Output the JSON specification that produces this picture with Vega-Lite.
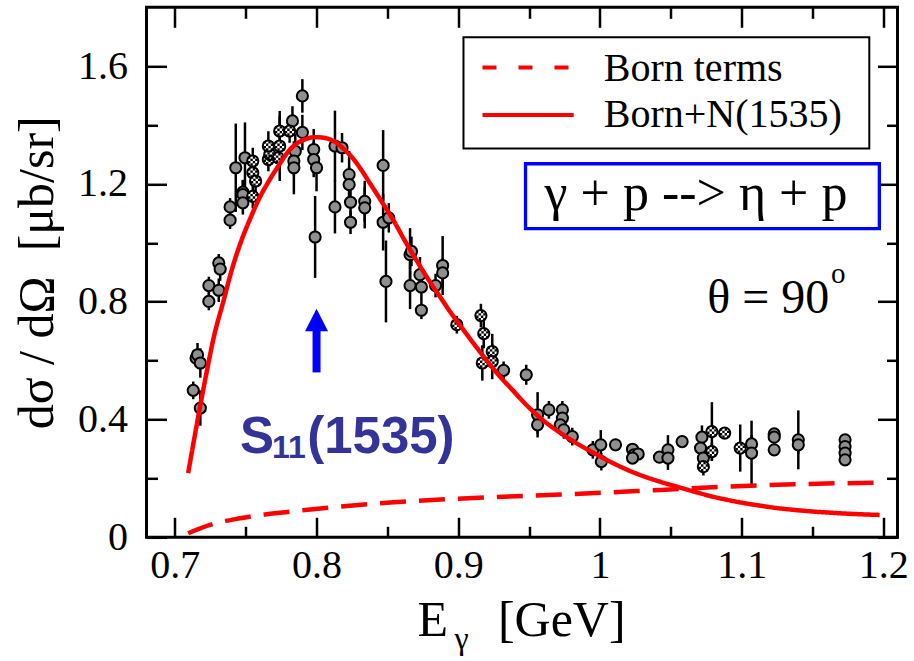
{
  "$schema": "https://vega.github.io/schema/vega-lite/v6.json",
  "width": 751,
  "height": 530,
  "autosize": {"type": "none"},
  "padding": {"left": 146.5, "top": 7.3, "right": 16.5, "bottom": 123.7},
  "background": "white",
  "config": {
    "view": {"stroke": "black", "strokeWidth": 3},
    "font": "Liberation Serif, Times New Roman, Times, serif",
    "axis": {
      "domain": false,
      "grid": false,
      "tickColor": "black",
      "tickWidth": 2.5,
      "labelFont": "Liberation Serif, Times New Roman, Times, serif",
      "labelFontSize": 40,
      "labelColor": "black",
      "titleFont": "Liberation Serif, Times New Roman, Times, serif",
      "titleFontSize": 50,
      "titleFontWeight": "normal",
      "titleColor": "black",
      "labelOverlap": false,
      "labelFlush": false
    }
  },
  "datasets": {
    "grey": [
      {"E": 0.713, "sigma": 0.499, "err": 0.03}, {"E": 0.718, "sigma": 0.439, "err": 0.06},
      {"E": 0.715, "sigma": 0.609, "err": 0.03}, {"E": 0.716, "sigma": 0.62, "err": 0.04},
      {"E": 0.718, "sigma": 0.592, "err": 0.05}, {"E": 0.724, "sigma": 0.855, "err": 0.03},
      {"E": 0.724, "sigma": 0.801, "err": 0.03}, {"E": 0.731, "sigma": 0.839, "err": 0.04},
      {"E": 0.731, "sigma": 0.932, "err": 0.03}, {"E": 0.732, "sigma": 0.911, "err": 0.04},
      {"E": 0.739, "sigma": 1.122, "err": 0.03}, {"E": 0.739, "sigma": 1.077, "err": 0.03},
      {"E": 0.743, "sigma": 1.255, "err": 0.15}, {"E": 0.748, "sigma": 1.172, "err": 0.04},
      {"E": 0.748, "sigma": 1.164, "err": 0.05}, {"E": 0.748, "sigma": 1.136, "err": 0.04},
      {"E": 0.7495, "sigma": 1.289, "err": 0.12}, {"E": 0.783, "sigma": 1.414, "err": 0.05},
      {"E": 0.785, "sigma": 1.311, "err": 0.06}, {"E": 0.784, "sigma": 1.278, "err": 0.05},
      {"E": 0.784, "sigma": 1.255, "err": 0.09}, {"E": 0.79, "sigma": 1.499, "err": 0.057},
      {"E": 0.79, "sigma": 1.375, "err": 0.06}, {"E": 0.798, "sigma": 1.317, "err": 0.07},
      {"E": 0.798, "sigma": 1.283, "err": 0.06}, {"E": 0.8, "sigma": 1.255, "err": 0.08},
      {"E": 0.799, "sigma": 1.02, "err": 0.139}, {"E": 0.813, "sigma": 1.329, "err": 0.12},
      {"E": 0.818, "sigma": 1.323, "err": 0.05}, {"E": 0.813, "sigma": 1.122, "err": 0.09},
      {"E": 0.823, "sigma": 1.232, "err": 0.08}, {"E": 0.823, "sigma": 1.198, "err": 0.06},
      {"E": 0.824, "sigma": 1.138, "err": 0.05}, {"E": 0.824, "sigma": 1.07, "err": 0.04},
      {"E": 0.834, "sigma": 1.141, "err": 0.07}, {"E": 0.834, "sigma": 1.119, "err": 0.07},
      {"E": 0.847, "sigma": 1.263, "err": 0.12}, {"E": 0.847, "sigma": 1.07, "err": 0.096},
      {"E": 0.851, "sigma": 1.085, "err": 0.05}, {"E": 0.849, "sigma": 0.869, "err": 0.139},
      {"E": 0.866, "sigma": 0.96, "err": 0.09}, {"E": 0.867, "sigma": 0.971, "err": 0.05},
      {"E": 0.866, "sigma": 0.855, "err": 0.08}, {"E": 0.873, "sigma": 0.892, "err": 0.06},
      {"E": 0.874, "sigma": 0.85, "err": 0.05}, {"E": 0.874, "sigma": 0.771, "err": 0.03},
      {"E": 0.884, "sigma": 0.855, "err": 0.04}, {"E": 0.889, "sigma": 0.923, "err": 0.1},
      {"E": 0.889, "sigma": 0.898, "err": 0.05}, {"E": 0.932, "sigma": 0.567, "err": 0.03},
      {"E": 0.948, "sigma": 0.552, "err": 0.034}, {"E": 0.956, "sigma": 0.416, "err": 0.077},
      {"E": 0.956, "sigma": 0.382, "err": 0.03}, {"E": 0.964, "sigma": 0.433, "err": 0.03},
      {"E": 0.9735, "sigma": 0.433, "err": 0.03}, {"E": 0.9735, "sigma": 0.405, "err": 0.03},
      {"E": 0.972, "sigma": 0.382, "err": 0.03}, {"E": 0.9745, "sigma": 0.365, "err": 0.03},
      {"E": 0.9805, "sigma": 0.342, "err": 0.03}, {"E": 0.995, "sigma": 0.297, "err": 0.03},
      {"E": 1.0006, "sigma": 0.314, "err": 0.05}, {"E": 1.001, "sigma": 0.257, "err": 0.03},
      {"E": 1.011, "sigma": 0.314, "err": 0.02}, {"E": 1.023, "sigma": 0.299, "err": 0.02},
      {"E": 1.024, "sigma": 0.28, "err": 0.02}, {"E": 1.027, "sigma": 0.283, "err": 0.02},
      {"E": 1.023, "sigma": 0.269, "err": 0.02}, {"E": 1.042, "sigma": 0.272, "err": 0.02},
      {"E": 1.048, "sigma": 0.297, "err": 0.05}, {"E": 1.048, "sigma": 0.269, "err": 0.04},
      {"E": 1.058, "sigma": 0.325, "err": 0.02}, {"E": 1.072, "sigma": 0.34, "err": 0.04},
      {"E": 1.071, "sigma": 0.303, "err": 0.03}, {"E": 1.073, "sigma": 0.269, "err": 0.03},
      {"E": 1.107, "sigma": 0.317, "err": 0.03}, {"E": 1.107, "sigma": 0.286, "err": 0.11},
      {"E": 1.123, "sigma": 0.351, "err": 0.02}, {"E": 1.123, "sigma": 0.34, "err": 0.02},
      {"E": 1.123, "sigma": 0.297, "err": 0.02}, {"E": 1.14, "sigma": 0.331, "err": 0.1},
      {"E": 1.14, "sigma": 0.314, "err": 0.03}, {"E": 1.173, "sigma": 0.331, "err": 0.02},
      {"E": 1.173, "sigma": 0.308, "err": 0.02}, {"E": 1.173, "sigma": 0.286, "err": 0.02},
      {"E": 1.173, "sigma": 0.263, "err": 0.02}
    ],
    "checker": [
      {"E": 0.755, "sigma": 1.278, "err": 0.045}, {"E": 0.755, "sigma": 1.238, "err": 0.04},
      {"E": 0.757, "sigma": 1.21, "err": 0.04}, {"E": 0.755, "sigma": 1.158, "err": 0.04},
      {"E": 0.766, "sigma": 1.283, "err": 0.04}, {"E": 0.767, "sigma": 1.3, "err": 0.04},
      {"E": 0.766, "sigma": 1.329, "err": 0.05}, {"E": 0.774, "sigma": 1.329, "err": 0.119},
      {"E": 0.774, "sigma": 1.38, "err": 0.05}, {"E": 0.773, "sigma": 1.289, "err": 0.04},
      {"E": 0.781, "sigma": 1.38, "err": 0.04}, {"E": 0.899, "sigma": 0.722, "err": 0.03},
      {"E": 0.916, "sigma": 0.753, "err": 0.04}, {"E": 0.918, "sigma": 0.692, "err": 0.05},
      {"E": 0.924, "sigma": 0.631, "err": 0.06}, {"E": 0.924, "sigma": 0.597, "err": 0.06},
      {"E": 0.917, "sigma": 0.592, "err": 0.06}, {"E": 1.073, "sigma": 0.24, "err": 0.03},
      {"E": 1.079, "sigma": 0.359, "err": 0.1}, {"E": 1.079, "sigma": 0.291, "err": 0.03},
      {"E": 1.088, "sigma": 0.354, "err": 0.02}, {"E": 1.099, "sigma": 0.303, "err": 0.08}
    ],
    "curves": [
      {"model": "Born terms", "E": 0.7094, "sigma": 0.0136},
      {"model": "Born terms", "E": 0.7248, "sigma": 0.042},
      {"model": "Born terms", "E": 0.746, "sigma": 0.0646},
      {"model": "Born terms", "E": 0.7813, "sigma": 0.087},
      {"model": "Born terms", "E": 0.8167, "sigma": 0.104},
      {"model": "Born terms", "E": 0.852, "sigma": 0.118},
      {"model": "Born terms", "E": 0.899, "sigma": 0.131},
      {"model": "Born terms", "E": 0.9723, "sigma": 0.145},
      {"model": "Born terms", "E": 1.043, "sigma": 0.161},
      {"model": "Born terms", "E": 1.09, "sigma": 0.172},
      {"model": "Born terms", "E": 1.1373, "sigma": 0.18},
      {"model": "Born terms", "E": 1.1974, "sigma": 0.1857},
      {"model": "Born+N(1535)", "E": 0.7094, "sigma": 0.218},
      {"model": "Born+N(1535)", "E": 0.715, "sigma": 0.37},
      {"model": "Born+N(1535)", "E": 0.7212, "sigma": 0.53},
      {"model": "Born+N(1535)", "E": 0.728, "sigma": 0.69},
      {"model": "Born+N(1535)", "E": 0.7342, "sigma": 0.8},
      {"model": "Born+N(1535)", "E": 0.74, "sigma": 0.905},
      {"model": "Born+N(1535)", "E": 0.746, "sigma": 0.995},
      {"model": "Born+N(1535)", "E": 0.753, "sigma": 1.08},
      {"model": "Born+N(1535)", "E": 0.76, "sigma": 1.155},
      {"model": "Born+N(1535)", "E": 0.767, "sigma": 1.215},
      {"model": "Born+N(1535)", "E": 0.774, "sigma": 1.268},
      {"model": "Born+N(1535)", "E": 0.78, "sigma": 1.31},
      {"model": "Born+N(1535)", "E": 0.786, "sigma": 1.337},
      {"model": "Born+N(1535)", "E": 0.792, "sigma": 1.352},
      {"model": "Born+N(1535)", "E": 0.799, "sigma": 1.359},
      {"model": "Born+N(1535)", "E": 0.806, "sigma": 1.356},
      {"model": "Born+N(1535)", "E": 0.812, "sigma": 1.346},
      {"model": "Born+N(1535)", "E": 0.819, "sigma": 1.32},
      {"model": "Born+N(1535)", "E": 0.826, "sigma": 1.285},
      {"model": "Born+N(1535)", "E": 0.832, "sigma": 1.245},
      {"model": "Born+N(1535)", "E": 0.838, "sigma": 1.2},
      {"model": "Born+N(1535)", "E": 0.846, "sigma": 1.14},
      {"model": "Born+N(1535)", "E": 0.854, "sigma": 1.079},
      {"model": "Born+N(1535)", "E": 0.862, "sigma": 1.01},
      {"model": "Born+N(1535)", "E": 0.871, "sigma": 0.937},
      {"model": "Born+N(1535)", "E": 0.879, "sigma": 0.875},
      {"model": "Born+N(1535)", "E": 0.8874, "sigma": 0.815},
      {"model": "Born+N(1535)", "E": 0.894, "sigma": 0.768},
      {"model": "Born+N(1535)", "E": 0.9016, "sigma": 0.718},
      {"model": "Born+N(1535)", "E": 0.909, "sigma": 0.67},
      {"model": "Born+N(1535)", "E": 0.916, "sigma": 0.626},
      {"model": "Born+N(1535)", "E": 0.923, "sigma": 0.583},
      {"model": "Born+N(1535)", "E": 0.93, "sigma": 0.543},
      {"model": "Born+N(1535)", "E": 0.937, "sigma": 0.507},
      {"model": "Born+N(1535)", "E": 0.948, "sigma": 0.45},
      {"model": "Born+N(1535)", "E": 0.9605, "sigma": 0.395},
      {"model": "Born+N(1535)", "E": 0.972, "sigma": 0.355},
      {"model": "Born+N(1535)", "E": 0.984, "sigma": 0.318},
      {"model": "Born+N(1535)", "E": 0.9958, "sigma": 0.286},
      {"model": "Born+N(1535)", "E": 1.0076, "sigma": 0.256},
      {"model": "Born+N(1535)", "E": 1.0194, "sigma": 0.229},
      {"model": "Born+N(1535)", "E": 1.031, "sigma": 0.207},
      {"model": "Born+N(1535)", "E": 1.043, "sigma": 0.188},
      {"model": "Born+N(1535)", "E": 1.055, "sigma": 0.171},
      {"model": "Born+N(1535)", "E": 1.0666, "sigma": 0.155},
      {"model": "Born+N(1535)", "E": 1.078, "sigma": 0.14},
      {"model": "Born+N(1535)", "E": 1.09, "sigma": 0.127},
      {"model": "Born+N(1535)", "E": 1.102, "sigma": 0.116},
      {"model": "Born+N(1535)", "E": 1.1137, "sigma": 0.107},
      {"model": "Born+N(1535)", "E": 1.1255, "sigma": 0.099},
      {"model": "Born+N(1535)", "E": 1.1373, "sigma": 0.093},
      {"model": "Born+N(1535)", "E": 1.149, "sigma": 0.088},
      {"model": "Born+N(1535)", "E": 1.1609, "sigma": 0.084},
      {"model": "Born+N(1535)", "E": 1.18, "sigma": 0.079},
      {"model": "Born+N(1535)", "E": 1.1974, "sigma": 0.076}
    ]
  },
  "resolve": {"axis": {"x": "independent", "y": "independent"}},
  "layer": [
    {
      "data": {"values": [{}]},
      "mark": {"type": "rect", "fill": "white", "stroke": "black", "strokeWidth": 2},
      "encoding": {
        "x": {"datum": 0.9037, "type": "quantitative", "scale": {"domain": [0.68, 1.21], "nice": false, "zero": false}, "axis": null},
        "x2": {"datum": 1.1901},
        "y": {"datum": 1.6983, "type": "quantitative", "scale": {"domain": [0, 1.8], "nice": false, "zero": false}, "axis": null},
        "y2": {"datum": 1.3207}
      }
    },
    {
      "data": {"values": [{}]},
      "mark": {"type": "rule", "color": "#ff0000", "strokeWidth": 4, "strokeDash": [14, 22]},
      "encoding": {
        "x": {"datum": 0.9171, "type": "quantitative", "scale": {"domain": [0.68, 1.21], "nice": false, "zero": false}, "axis": null},
        "x2": {"datum": 0.9815},
        "y": {"datum": 1.5952, "type": "quantitative", "scale": {"domain": [0, 1.8], "nice": false, "zero": false}, "axis": null}
      }
    },
    {
      "data": {"values": [{}]},
      "mark": {"type": "rule", "color": "#ff0000", "strokeWidth": 4},
      "encoding": {
        "x": {"datum": 0.9171, "type": "quantitative", "scale": {"domain": [0.68, 1.21], "nice": false, "zero": false}, "axis": null},
        "x2": {"datum": 0.9815},
        "y": {"datum": 1.434, "type": "quantitative", "scale": {"domain": [0, 1.8], "nice": false, "zero": false}, "axis": null}
      }
    },
    {
      "data": {"values": [{}]},
      "mark": {"type": "text", "text": "Born terms", "font": "Liberation Serif, Times New Roman, Times, serif", "fontSize": 40, "align": "left", "baseline": "alphabetic", "color": "black"},
      "encoding": {
        "x": {"datum": 1.0027, "type": "quantitative", "scale": {"domain": [0.68, 1.21], "nice": false, "zero": false}, "axis": null},
        "y": {"datum": 1.5497, "type": "quantitative", "scale": {"domain": [0, 1.8], "nice": false, "zero": false}, "axis": null}
      }
    },
    {
      "data": {"values": [{}]},
      "mark": {"type": "text", "text": "Born+N(1535)", "font": "Liberation Serif, Times New Roman, Times, serif", "fontSize": 40, "align": "left", "baseline": "alphabetic", "color": "black"},
      "encoding": {
        "x": {"datum": 1.0027, "type": "quantitative", "scale": {"domain": [0.68, 1.21], "nice": false, "zero": false}, "axis": null},
        "y": {"datum": 1.3932, "type": "quantitative", "scale": {"domain": [0, 1.8], "nice": false, "zero": false}, "axis": null}
      }
    },
    {
      "data": {"values": [{}]},
      "mark": {"type": "rect", "fill": null, "fillOpacity": 0, "stroke": "#0000ff", "strokeWidth": 3.3},
      "encoding": {
        "x": {"datum": 0.9475, "type": "quantitative", "scale": {"domain": [0.68, 1.21], "nice": false, "zero": false}, "axis": null},
        "x2": {"datum": 1.1972},
        "y": {"datum": 1.2687, "type": "quantitative", "scale": {"domain": [0, 1.8], "nice": false, "zero": false}, "axis": null},
        "y2": {"datum": 1.0486}
      }
    },
    {
      "data": {"values": [{}]},
      "mark": {"type": "text", "text": "γ + p --> η + p", "font": "Liberation Serif, Times New Roman, Times, serif", "fontSize": 52, "align": "center", "baseline": "alphabetic", "color": "black"},
      "encoding": {
        "x": {"datum": 1.0678, "type": "quantitative", "scale": {"domain": [0.68, 1.21], "nice": false, "zero": false}, "axis": null},
        "y": {"datum": 1.11, "type": "quantitative", "scale": {"domain": [0, 1.8], "nice": false, "zero": false}, "axis": null}
      }
    },
    {
      "data": {"name": "grey"},
      "mark": {"type": "errorbar", "color": "black", "thickness": 2.5},
      "encoding": {
        "x": {"field": "E", "type": "quantitative", "scale": {"domain": [0.68, 1.21], "nice": false, "zero": false}, "axis": null},
        "y": {"field": "sigma", "type": "quantitative", "scale": {"domain": [0, 1.8], "nice": false, "zero": false}, "axis": null},
        "yError": {"field": "err"}
      }
    },
    {
      "data": {"name": "checker"},
      "mark": {"type": "errorbar", "color": "black", "thickness": 2.5},
      "encoding": {
        "x": {"field": "E", "type": "quantitative", "scale": {"domain": [0.68, 1.21], "nice": false, "zero": false}, "axis": null},
        "y": {"field": "sigma", "type": "quantitative", "scale": {"domain": [0, 1.8], "nice": false, "zero": false}, "axis": null},
        "yError": {"field": "err"}
      }
    },
    {
      "data": {"name": "grey"},
      "mark": {"type": "point", "shape": "circle", "filled": true, "fill": "#8f8f8f", "stroke": "black", "strokeWidth": 2, "size": 125, "opacity": 1},
      "encoding": {
        "x": {
          "field": "E", "type": "quantitative",
          "scale": {"domain": [0.68, 1.21], "nice": false, "zero": false},
          "axis": {
            "orient": "bottom",
            "values": [0.7, 0.8, 0.9, 1, 1.1, 1.2],
            "labelExpr": "'' + datum.value",
            "ticks": false,
            "labelPadding": 8,
            "labelBaseline": "top",
            "title": "E\u00a0\u00a0\u00a0\u00a0[GeV]",
            "titleX": 374.5,
            "titleY": 97.7,
            "titleAlign": "center",
            "titleBaseline": "alphabetic"
          }
        },
        "y": {
          "field": "sigma", "type": "quantitative",
          "scale": {"domain": [0, 1.8], "nice": false, "zero": false},
          "axis": {
            "orient": "left",
            "values": [0, 0.4, 0.8, 1.2, 1.6],
            "labelExpr": "'' + datum.value",
            "ticks": false,
            "labelPadding": 19,
            "title": "dσ\u00a0/\u00a0dΩ\u00a0\u00a0[μb/sr]",
            "titleX": -84.5,
            "titleY": 265,
            "titleAngle": -90,
            "titleAlign": "center",
            "titleBaseline": "bottom"
          }
        }
      }
    },
    {
      "data": {"name": "checker"},
      "mark": {"type": "point", "shape": "circle", "filled": true, "fill": "white", "stroke": "black", "strokeWidth": 2, "size": 125, "opacity": 1},
      "encoding": {
        "x": {
          "field": "E", "type": "quantitative",
          "scale": {"domain": [0.68, 1.21], "nice": false, "zero": false},
          "axis": {
            "orient": "bottom",
            "values": [0.7, 0.75, 0.8, 0.85, 0.9, 0.95, 1, 1.05, 1.1, 1.15, 1.2],
            "labels": false,
            "title": null,
            "tickSize": {"condition": {"test": "abs(datum.value * 10 - round(datum.value * 10)) < 0.001", "value": -20}, "value": -11}
          }
        },
        "y": {
          "field": "sigma", "type": "quantitative",
          "scale": {"domain": [0, 1.8], "nice": false, "zero": false},
          "axis": {
            "orient": "left",
            "values": [0, 0.2, 0.4, 0.6, 0.8, 1, 1.2, 1.4, 1.6],
            "labels": false,
            "title": null,
            "tickSize": {"condition": {"test": "abs(datum.value * 2.5 - round(datum.value * 2.5)) < 0.001", "value": -20}, "value": -11}
          }
        }
      }
    },
    {
      "data": {"name": "checker"},
      "mark": {
        "type": "point",
        "shape": "M-1,-1h.5v.5h-.5zM0,-1h.5v.5h-.5zM-.5,-.5h.5v.5h-.5zM.5,-.5h.5v.5h-.5zM-1,0h.5v.5h-.5zM0,0h.5v.5h-.5zM-.5,.5h.5v.5h-.5zM.5,.5h.5v.5h-.5z",
        "filled": true, "fill": "black", "strokeWidth": 0, "size": 90, "opacity": 1
      },
      "encoding": {
        "x": {
          "field": "E", "type": "quantitative",
          "scale": {"domain": [0.68, 1.21], "nice": false, "zero": false},
          "axis": {
            "orient": "top",
            "values": [0.7, 0.75, 0.8, 0.85, 0.9, 0.95, 1, 1.05, 1.1, 1.15, 1.2],
            "labels": false,
            "title": null,
            "tickSize": {"condition": {"test": "abs(datum.value * 10 - round(datum.value * 10)) < 0.001", "value": -20}, "value": -11}
          }
        },
        "y": {
          "field": "sigma", "type": "quantitative",
          "scale": {"domain": [0, 1.8], "nice": false, "zero": false},
          "axis": {
            "orient": "right",
            "values": [0, 0.2, 0.4, 0.6, 0.8, 1, 1.2, 1.4, 1.6],
            "labels": false,
            "title": null,
            "tickSize": {"condition": {"test": "abs(datum.value * 2.5 - round(datum.value * 2.5)) < 0.001", "value": -20}, "value": -11}
          }
        }
      }
    },
    {
      "data": {"name": "curves"},
      "mark": {"type": "line", "color": "#ff0000", "strokeWidth": 4.5, "interpolate": "monotone"},
      "encoding": {
        "x": {"field": "E", "type": "quantitative", "scale": {"domain": [0.68, 1.21], "nice": false, "zero": false}, "axis": null},
        "y": {"field": "sigma", "type": "quantitative", "scale": {"domain": [0, 1.8], "nice": false, "zero": false}, "axis": null},
        "strokeDash": {
          "field": "model", "type": "nominal",
          "scale": {"domain": ["Born terms", "Born+N(1535)"], "range": [[26, 13], [1, 0]]},
          "legend": null
        }
      }
    },
    {
      "data": {"values": [{}]},
      "mark": {"type": "rule", "color": "#0000ff", "strokeWidth": 8},
      "encoding": {
        "x": {"datum": 0.8, "type": "quantitative", "scale": {"domain": [0.68, 1.21], "nice": false, "zero": false}, "axis": null},
        "y": {"datum": 0.56, "type": "quantitative", "scale": {"domain": [0, 1.8], "nice": false, "zero": false}, "axis": null},
        "y2": {"datum": 0.705}
      }
    },
    {
      "data": {"values": [{}]},
      "mark": {"type": "point", "shape": "M0,-1.95L1,0L-1,0Z", "filled": true, "fill": "#0000ff", "strokeWidth": 0, "size": 529, "opacity": 1},
      "encoding": {
        "x": {"datum": 0.8, "type": "quantitative", "scale": {"domain": [0.68, 1.21], "nice": false, "zero": false}, "axis": null},
        "y": {"datum": 0.7, "type": "quantitative", "scale": {"domain": [0, 1.8], "nice": false, "zero": false}, "axis": null}
      }
    },
    {
      "data": {"values": [{}]},
      "mark": {"type": "text", "text": "S", "font": "Liberation Sans, Arial, Helvetica, sans-serif", "fontWeight": "bold", "fontSize": 51, "align": "left", "baseline": "alphabetic", "color": "#333399"},
      "encoding": {
        "x": {"datum": 0.746, "type": "quantitative", "scale": {"domain": [0.68, 1.21], "nice": false, "zero": false}, "axis": null},
        "y": {"datum": 0.2857, "type": "quantitative", "scale": {"domain": [0, 1.8], "nice": false, "zero": false}, "axis": null}
      }
    },
    {
      "data": {"values": [{}]},
      "mark": {"type": "text", "text": "11", "font": "Liberation Sans, Arial, Helvetica, sans-serif", "fontWeight": "bold", "fontSize": 32, "align": "left", "baseline": "alphabetic", "color": "#333399"},
      "encoding": {
        "x": {"datum": 0.7686, "type": "quantitative", "scale": {"domain": [0.68, 1.21], "nice": false, "zero": false}, "axis": null},
        "y": {"datum": 0.2687, "type": "quantitative", "scale": {"domain": [0, 1.8], "nice": false, "zero": false}, "axis": null}
      }
    },
    {
      "data": {"values": [{}]},
      "mark": {"type": "text", "text": "(1535)", "font": "Liberation Sans, Arial, Helvetica, sans-serif", "fontWeight": "bold", "fontSize": 51, "align": "left", "baseline": "alphabetic", "color": "#333399"},
      "encoding": {
        "x": {"datum": 0.7934, "type": "quantitative", "scale": {"domain": [0.68, 1.21], "nice": false, "zero": false}, "axis": null},
        "y": {"datum": 0.2857, "type": "quantitative", "scale": {"domain": [0, 1.8], "nice": false, "zero": false}, "axis": null}
      }
    },
    {
      "data": {"values": [{}]},
      "mark": {"type": "text", "text": "θ = 90", "font": "Liberation Serif, Times New Roman, Times, serif", "fontSize": 48, "align": "right", "baseline": "alphabetic", "color": "black"},
      "encoding": {
        "x": {"datum": 1.1618, "type": "quantitative", "scale": {"domain": [0.68, 1.21], "nice": false, "zero": false}, "axis": null},
        "y": {"datum": 0.763, "type": "quantitative", "scale": {"domain": [0, 1.8], "nice": false, "zero": false}, "axis": null}
      }
    },
    {
      "data": {"values": [{}]},
      "mark": {"type": "text", "text": "o", "font": "Liberation Serif, Times New Roman, Times, serif", "fontSize": 29, "align": "left", "baseline": "alphabetic", "color": "black"},
      "encoding": {
        "x": {"datum": 1.163, "type": "quantitative", "scale": {"domain": [0.68, 1.21], "nice": false, "zero": false}, "axis": null},
        "y": {"datum": 0.865, "type": "quantitative", "scale": {"domain": [0, 1.8], "nice": false, "zero": false}, "axis": null}
      }
    },
    {
      "data": {"values": [{}]},
      "mark": {"type": "text", "text": "γ", "font": "Liberation Serif, Times New Roman, Times, serif", "fontSize": 32, "align": "center", "baseline": "alphabetic", "color": "black"},
      "encoding": {
        "x": {"datum": 0.9023, "type": "quantitative", "scale": {"domain": [0.68, 1.21], "nice": false, "zero": false}, "axis": null},
        "y": {"datum": -0.38, "type": "quantitative", "scale": {"domain": [0, 1.8], "nice": false, "zero": false}, "axis": null}
      }
    }
  ]
}
